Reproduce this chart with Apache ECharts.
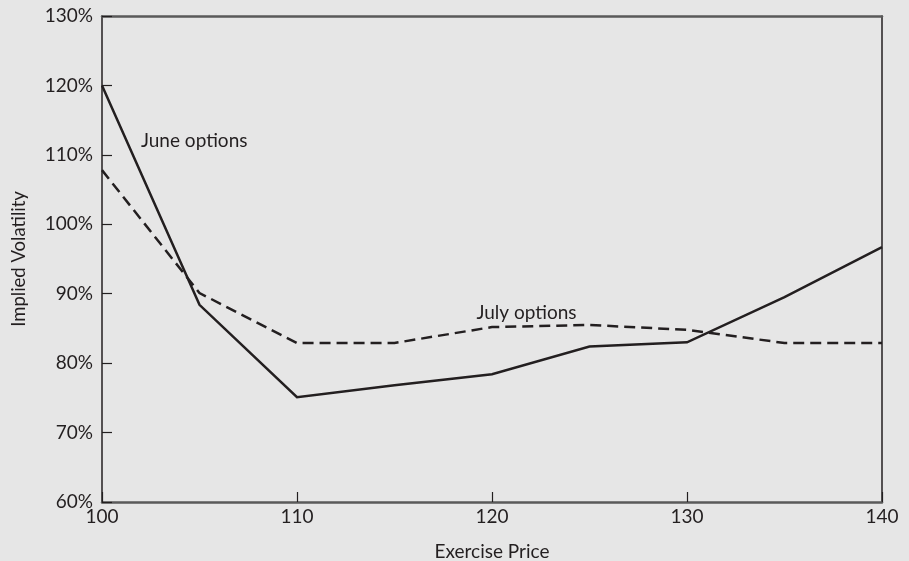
<!DOCTYPE html>
<html>
<head>
<meta charset="utf-8">
<script src="https://cdn.jsdelivr.net/npm/echarts@6/dist/echarts.min.js"></script>
<style>
html,body{margin:0;padding:0;background:#e6e6e6;}
#chart{width:909px;height:561px;}
</style>
</head>
<body>
<div id="chart"></div>
<script>
const exercisePrices = [100, 105, 110, 115, 120, 125, 130, 135, 140];
const juneVol = [120.0, 88.4, 75.1, 76.8, 78.4, 82.4, 83.0, 89.5, 96.7];
const julyVol = [107.8, 90.1, 82.9, 82.9, 85.2, 85.5, 84.8, 82.9, 82.9];
const xTicks = [100, 110, 120, 130, 140];
const yTicks = [60, 70, 80, 90, 100, 110, 120, 130];

const FONT = 'Lato, "Open Sans", sans-serif';
const INK = '#231f20';
const toPairs = (xs, ys) => xs.map((x, i) => [x, ys[i]]);

const chart = echarts.init(document.getElementById('chart'), null, {renderer: 'canvas'});
chart.setOption({
  backgroundColor: '#e6e6e6',
  animation: false,
  grid: {left: 102, right: 27, top: 16, bottom: 59, containLabel: false, outerBoundsMode: 'none'},
  xAxis: [{
    type: 'value', min: xTicks[0], max: xTicks[xTicks.length - 1], interval: 10,
    name: 'Exercise Price', nameLocation: 'middle', nameGap: 40,
    nameTextStyle: {fontFamily: FONT, fontSize: 19, color: INK},
    axisLine: {show: true, lineStyle: {color: '#5a5a5a', width: 2.5}},
    axisTick: {show: true, inside: true, length: 10, lineStyle: {color: INK, width: 1.2}},
    axisLabel: {fontFamily: FONT, fontSize: 19, color: INK, margin: 5},
    splitLine: {show: false}
  }, {
    type: 'value', position: 'top', min: xTicks[0], max: xTicks[xTicks.length - 1],
    axisLine: {show: true, lineStyle: {color: '#5a5a5a', width: 2.5}},
    axisTick: {show: false}, axisLabel: {show: false}, splitLine: {show: false}
  }],
  yAxis: [{
    type: 'value', min: yTicks[0], max: yTicks[yTicks.length - 1], interval: 10,
    name: 'Implied Volatility', nameLocation: 'middle', nameGap: 73, nameRotate: 90,
    nameTextStyle: {fontFamily: FONT, fontSize: 18.5, color: INK},
    axisLine: {show: true, lineStyle: {color: INK, width: 1.5}},
    axisTick: {show: true, inside: true, length: 10, lineStyle: {color: INK, width: 1.2}},
    axisLabel: {fontFamily: FONT, fontSize: 19, color: INK, margin: 9, formatter: '{value}%'},
    splitLine: {show: false}
  }, {
    type: 'value', position: 'right', min: yTicks[0], max: yTicks[yTicks.length - 1],
    axisLine: {show: true, lineStyle: {color: INK, width: 1.5}},
    axisTick: {show: false}, axisLabel: {show: false}, splitLine: {show: false}
  }],
  series: [{
    name: 'June options', type: 'line', data: toPairs(exercisePrices, juneVol),
    symbol: 'none', lineStyle: {color: INK, width: 2.5, join: 'miter'},
    markPoint: {
      symbol: 'circle', symbolSize: 0,
      data: [{coord: [102, 112.0], value: 'June options'}],
      label: {show: true, position: 'right', distance: 0, formatter: 'June options',
        fontFamily: FONT, fontSize: 19, color: INK}
    }
  }, {
    name: 'July options', type: 'line', data: toPairs(exercisePrices, julyVol),
    symbol: 'none', lineStyle: {color: INK, width: 2.5, type: [11, 6], join: 'miter'},
    markPoint: {
      symbol: 'circle', symbolSize: 0,
      data: [{coord: [119.2, 87.2], value: 'July options'}],
      label: {show: true, position: 'right', distance: 0, formatter: 'July options',
        fontFamily: FONT, fontSize: 19, color: INK}
    }
  }]
});
</script>
</body>
</html>
